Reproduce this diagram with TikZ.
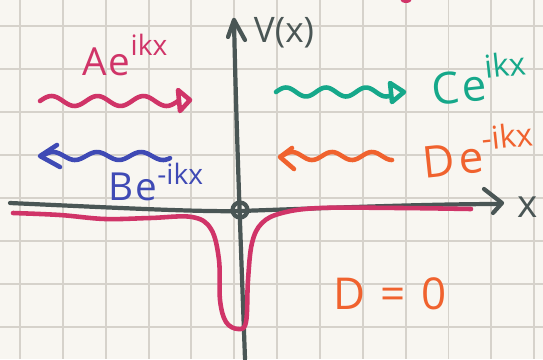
\documentclass[tikz,border=0pt]{standalone}
\usepackage{fontspec}
\setmainfont{Open Sans}
\begin{document}
\begin{tikzpicture}[x=0.02cm,y=-0.02cm,
  gridline/.style={draw=gridc,line width=1.1pt},
  axis/.style={draw=axisc,line width=2.4pt,line cap=round,line join=round},
  pen/.style={line width=2.6pt,line cap=round,line join=round},
  lbl/.style={inner sep=0pt,font=\fontsize{22}{24}\selectfont},
  biglbl/.style={inner sep=0pt,font=\fontsize{25}{27}\selectfont}]
\definecolor{paper}{HTML}{F8F6F1}
\definecolor{gridc}{HTML}{D6D2CB}
\definecolor{axisc}{HTML}{4A5655}
\definecolor{pinkc}{HTML}{D03468}
\definecolor{bluec}{HTML}{3F4AB5}
\definecolor{tealc}{HTML}{16A88A}
\definecolor{orangec}{HTML}{F0622E}
\fill[paper] (0,0) rectangle (543,359);
\useasboundingbox (0,0) rectangle (543,359);
% grid
\foreach \i in {0,...,12} \draw[gridline] ({20+42.85*\i},0) -- ({20+42.85*\i},359);
\foreach \j in {0,...,7} \draw[gridline] (0,{26+43*\j}) -- (543,{26+43*\j});
% pink dot at top
\fill[pinkc] (406,-1) ellipse (6 and 4);
% axes
\coordinate (xs) at (10,203);
\coordinate (xe) at (500,204);
\draw[axis] (xs) .. controls (120,208) and (200,212) .. (240,211) .. controls (300,209) and (420,204) .. (xe);
\draw[axis] (484,189) -- (502,203) -- (493,213);
\coordinate (ys) at (245,359);
\coordinate (ye) at (234,20);
\draw[axis] (ys) .. controls (241,250) and (236,120) .. (ye);
\draw[axis] (228,37) -- (234,20) -- (245,40);
\draw[axis] (240,210) circle (7.5);
\node[lbl,text=axisc,font=\fontsize{20}{22}\selectfont] (vx) at (284,33) {V(x)};
\node[lbl,text=axisc] (xl) at (528,207) {x};
% potential curve
\draw[pinkc,pen] plot[smooth,tension=0.6] coordinates {(13,213) (60,215) (105,219) (150,218) (192,217) (211,229) (219,260) (220,300) (226,322) (238,329) (246,322) (248,280) (252,243) (262,223) (282,213) (320,208) (400,208) (471,209)};
% pink wave right
\draw[pinkc,pen] plot[smooth,domain=40:178,samples=60] (\x,{101-5*sin((\x-40)/46*360)});
\draw[pinkc,pen] (178,90) -- (190,100) -- (180,111) -- cycle;
\node[lbl,text=pinkc] (A) at (125,55) {A\hspace{1pt}e\raisebox{11pt}{\fontsize{16}{18}\selectfont ikx}};
% blue wave left
\draw[bluec,pen] plot[smooth,domain=42:170,samples=60] (\x,{156-4*sin((\x-42)/44*360)});
\draw[bluec,pen] (57,145) -- (40,156) -- (60,167);
\node[lbl,text=bluec] (B) at (156,182) {B\hspace{1pt}e\raisebox{9pt}{\fontsize{16}{18}\selectfont -ikx}};
% teal wave right
\draw[tealc,pen] plot[smooth,domain=276:390,samples=60] (\x,{92-4.5*sin((\x-276)/40*360)});
\draw[tealc,pen] (390,83) -- (404,92) -- (392,102) -- cycle;
\node[biglbl,text=tealc,rotate=6] (C) at (479,78) {C\hspace{1pt}e\raisebox{12pt}{\fontsize{18}{20}\selectfont ikx}};
% orange wave left
\draw[orangec,pen] plot[smooth,domain=282:392,samples=60] (\x,{156-4*sin((\x-282)/40*360)});
\draw[orangec,pen] (292,148) -- (280,157) -- (294,169);
\node[biglbl,text=orangec,rotate=6] (D) at (478,150) {D\hspace{2pt}e\raisebox{12pt}{\fontsize{18}{20}\selectfont -ikx}};
\node[biglbl,text=orangec] (D0) at (390,294) {D\hspace{9pt}=\hspace{9pt}0};
\end{tikzpicture}
\end{document}
